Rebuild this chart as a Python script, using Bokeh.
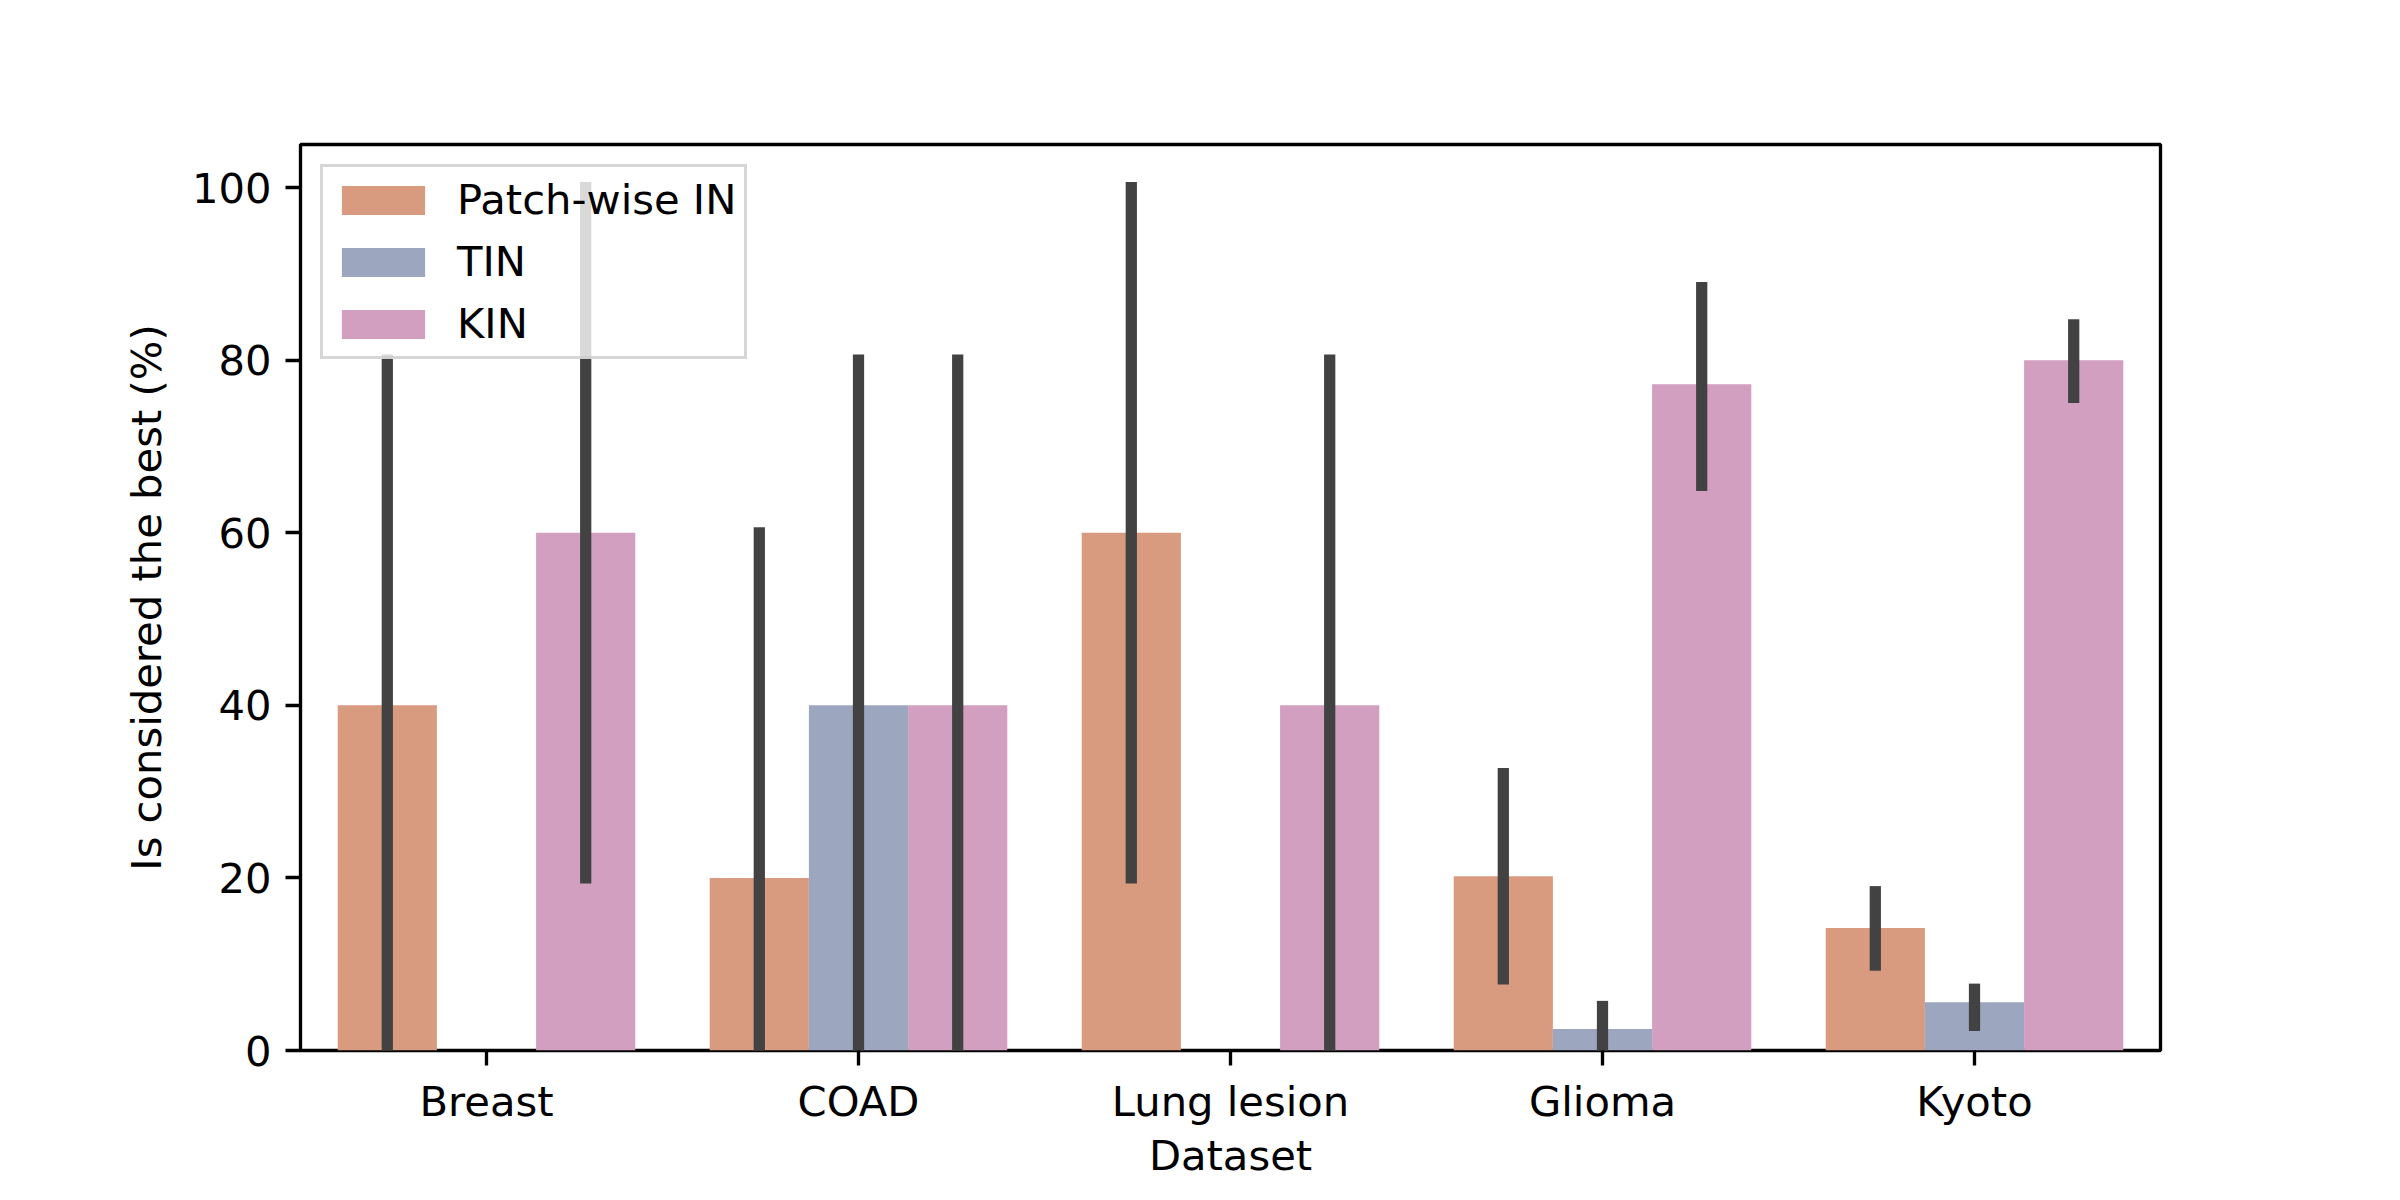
import math
from bokeh.plotting import figure
from bokeh.models import FactorRange, Range1d, FixedTicker, ColumnDataSource, Legend
from bokeh.transform import dodge
from bokeh.embed import file_html
from bokeh.resources import INLINE

datasets = ["Breast", "COAD", "Lung lesion", "Glioma", "Kyoto"]
series = ["Patch-wise IN", "TIN", "KIN"]
colors = ["#d99b80", "#9ca6bf", "#d29fc0"]

pin = [40, 20, 60, 20.2, 14.2]
pin_lo = [0, 0, 20, 8.3, 9.9]
pin_hi = [80, 60, 100, 32.1, 18.4]

tin = [0, 40, 0, 2.5, 5.6]
tin_lo = [float("nan"), 0, float("nan"), 0, 2.9]
tin_hi = [float("nan"), 80, float("nan"), 5.1, 7.1]

kin = [60, 40, 40, 77.2, 80]
kin_lo = [20, 0, 0, 65.5, 75.7]
kin_hi = [100, 80, 80, 88.4, 84.1]

y_ticks = [0, 20, 40, 60, 80, 100]

FONT = "DejaVu Sans"
FS = "41.7px"
LW = 3.33

p = figure(
    x_range=FactorRange(*datasets),
    y_range=Range1d(0, 105),
    frame_width=1860, frame_height=906,
    min_border_left=300, min_border_top=144, min_border_right=224, min_border_bottom=138,
    output_backend="svg", toolbar_location=None,
    background_fill_color="white", border_fill_color="white",
)

bw = 0.8 / 3
offsets = [-bw, 0.0, bw]
vals = [pin, tin, kin]
los = [pin_lo, tin_lo, kin_lo]
his = [pin_hi, tin_hi, kin_hi]

bar_renderers = []
for name, col, off, v in zip(series, colors, offsets, vals):
    src = ColumnDataSource(dict(x=datasets, top=v))
    r = p.vbar(x=dodge("x", off, range=p.x_range), top="top", bottom=0, width=bw,
               source=src, fill_color=col, line_color=None)
    bar_renderers.append((name, r))

for off, lo, hi in zip(offsets, los, his):
    src = ColumnDataSource(dict(x=datasets, lo=lo, hi=hi))
    p.segment(x0=dodge("x", off, range=p.x_range), y0="lo",
              x1=dodge("x", off, range=p.x_range), y1="hi",
              source=src, line_color="#424242", line_width=11.25, line_cap="square")

legend = Legend(items=[(n, [r]) for n, r in bar_renderers], location="top_left")
legend.margin = 20
legend.padding = 8
legend.spacing = 13
legend.glyph_width = 104
legend.glyph_height = 36
legend.label_height = 48
legend.label_standoff = 22
legend.label_text_font = FONT
legend.label_text_font_size = FS
legend.label_text_color = "black"
legend.border_line_color = "#cccccc"
legend.border_line_width = LW
legend.border_line_alpha = 0.8
legend.background_fill_color = "white"
legend.background_fill_alpha = 0.8
p.add_layout(legend, "center")

p.grid.visible = False
p.outline_line_color = "black"
p.outline_line_width = LW

p.yaxis.ticker = FixedTicker(ticks=y_ticks)
for ax in (p.xaxis, p.yaxis):
    ax.axis_line_color = None
    ax.major_tick_out = 15
    ax.major_tick_in = 0
    ax.major_tick_line_width = LW
    ax.major_tick_line_color = "black"
    ax.minor_tick_line_color = None
    ax.major_label_text_font = FONT
    ax.major_label_text_font_size = FS
    ax.major_label_text_color = "black"
    ax.axis_label_text_font = FONT
    ax.axis_label_text_font_size = FS
    ax.axis_label_text_font_style = "normal"
    ax.axis_label_text_color = "black"

p.xaxis.major_label_standoff = 11
p.yaxis.major_label_standoff = 14
p.xaxis.axis_label = "Dataset"
p.yaxis.axis_label = "Is considered the best (%)"
p.xaxis.axis_label_standoff = 2
p.yaxis.axis_label_standoff = 18
p.xaxis.group_text_font_size = FS

open("out.html", "w").write(file_html(p, INLINE))
